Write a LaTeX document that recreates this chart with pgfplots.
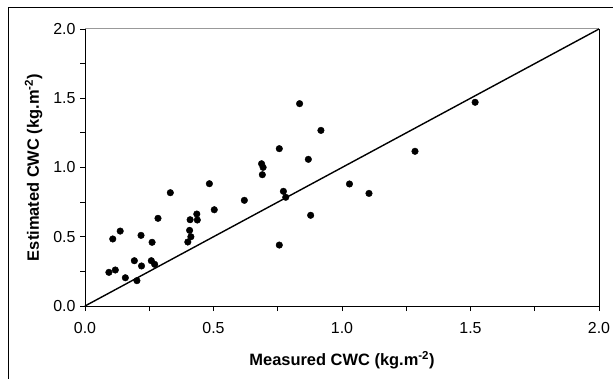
\documentclass[border=0pt]{standalone}
\usepackage{pgfplots}
\pgfplotsset{compat=1.18}
\usepackage{fontspec}
\setmainfont{Liberation Sans}
\begin{document}
\begin{tikzpicture}[x=1bp,y=1bp]
\path[use as bounding box, clip] (0,0) rectangle (613,378);
\draw[line width=1bp] (640,370) -- (8,370) -- (8,-20);
\begin{axis}[
  at={(85bp,72bp)}, anchor=south west,
  scale only axis, width=514bp, height=277bp,
  xmin=0, xmax=2, ymin=0, ymax=2,
  axis x line*=bottom, axis y line*=left,
  axis line style={line width=0.9bp, -},
  xtick={0,0.5,1,1.5,2}, ytick={0,0.5,1,1.5,2},
  minor xtick={0.25,0.75,1.25,1.75}, minor ytick={0.25,0.75,1.25,1.75},
  tick align=outside,
  major tick length=5bp, minor tick length=5bp,
  tick style={black, line width=0.9bp},
  ticklabel style={font=\fontsize{16}{17}\selectfont},
  /pgf/number format/assume math mode=true,
  /pgf/number format/fixed, /pgf/number format/fixed zerofill, /pgf/number format/precision=1,
  xticklabel style={yshift=-8bp},
  yticklabel style={xshift=-1bp},
  xlabel={\textbf{Measured CWC (kg.m\textsuperscript{-2})}},
  ylabel={\textbf{Estimated CWC (kg.m\textsuperscript{-2})}},
  label style={font=\fontsize{16.5}{18}\selectfont},
  xlabel style={yshift=-11bp},
  ylabel style={yshift=4bp},
  clip=false,
]
\draw[gray!80, line width=1bp] (rel axis cs:0,1) -- (rel axis cs:1,1);
\draw[black, line width=1bp] (rel axis cs:1,0) -- (rel axis cs:1,1);
\addplot[black, line width=1.4bp, mark=none] coordinates {(0,0) (2,2)};
\addplot[only marks, mark=*, mark size=3.3bp, mark options={fill=black, draw=black}] table {
x y
0.093 0.243
0.118 0.260
0.108 0.484
0.137 0.541
0.157 0.204
0.192 0.327
0.202 0.183
0.220 0.289
0.218 0.510
0.261 0.460
0.258 0.327
0.271 0.301
0.284 0.633
0.332 0.818
0.400 0.462
0.412 0.500
0.407 0.546
0.409 0.623
0.435 0.664
0.437 0.621
0.484 0.883
0.503 0.695
0.620 0.763
0.687 1.027
0.693 1.001
0.690 0.948
0.756 0.440
0.756 1.136
0.835 1.461
0.918 1.268
0.869 1.059
0.772 0.828
0.781 0.785
1.029 0.881
1.105 0.813
1.284 1.117
0.878 0.655
1.518 1.471
};
\end{axis}
\end{tikzpicture}
\end{document}
